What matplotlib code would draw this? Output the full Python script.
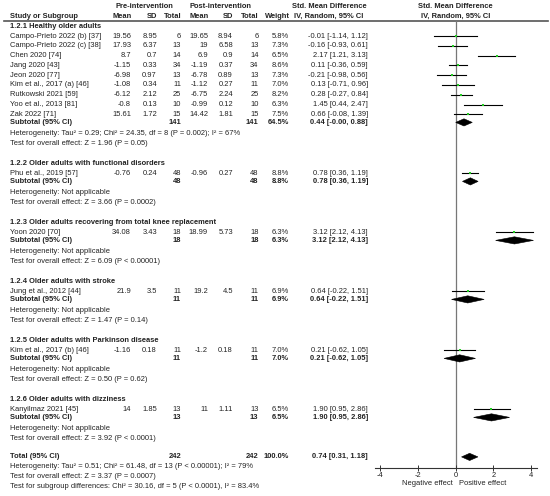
import matplotlib.pyplot as plt
from matplotlib.patches import Polygon

plt.rcParams['font.family'] = ['Liberation Sans', 'DejaVu Sans']

# ---- data ----
groups = [
    '1.2.1 Healthy older adults',
    '1.2.2 Older adults with functional disorders',
    '1.2.3 Older adults recovering from total knee replacement',
    '1.2.4 Older adults with stroke',
    '1.2.5 Older adults with Parkinson disease',
    '1.2.6 Older adults with dizziness',
]
studies = [
    ['Campo-Prieto 2022 (b) [37]', 'Campo-Prieto 2022 (c) [38]', 'Chen 2020 [74]',
     'Jang 2020 [43]', 'Jeon 2020 [77]', 'Kim et al., 2017 (a) [46]',
     'Rutkowski 2021 [59]', 'Yoo et al., 2013 [81]', 'Zak 2022 [71]'],
    ['Phu et al., 2019 [57]'],
    ['Yoon 2020 [70]'],
    ['Jung et al., 2012 [44]'],
    ['Kim et al., 2017 (b) [46]'],
    ['Kanyilmaz 2021 [45]'],
]
pre_mean = [['19.56', '17.93', '8.7', '-1.15', '-6.98', '-1.08', '-6.12', '-0.8', '15.61'],
            ['-0.76'], ['34.08'], ['21.9'], ['-1.16'], ['14']]
pre_sd = [['8.95', '6.37', '0.7', '0.33', '0.97', '0.34', '2.12', '0.13', '1.72'],
          ['0.24'], ['3.43'], ['3.5'], ['0.18'], ['1.85']]
pre_n = [[6, 13, 14, 34, 13, 11, 25, 10, 15], [48], [18], [11], [11], [13]]
post_mean = [['19.65', '19', '6.9', '-1.19', '-6.78', '-1.12', '-6.75', '-0.99', '14.42'],
             ['-0.96'], ['18.99'], ['19.2'], ['-1.2'], ['11']]
post_sd = [['8.94', '6.58', '0.9', '0.37', '0.89', '0.27', '2.24', '0.12', '1.81'],
           ['0.27'], ['5.73'], ['4.5'], ['0.18'], ['1.11']]
post_n = [[6, 13, 14, 34, 13, 11, 25, 10, 15], [48], [18], [11], [11], [13]]
weight = [[5.8, 7.3, 6.5, 8.6, 7.3, 7.0, 8.2, 6.3, 7.5], [8.8], [6.3], [6.9], [7.0], [6.5]]
smd = [[-0.01, -0.16, 2.17, 0.11, -0.21, 0.13, 0.28, 1.45, 0.66],
       [0.78], [3.12], [0.64], [0.21], [1.90]]
ci_lo = [[-1.14, -0.93, 1.21, -0.36, -0.98, -0.71, -0.27, 0.44, -0.08],
         [0.36], [2.12], [-0.22], [-0.62], [0.95]]
ci_hi = [[1.12, 0.61, 3.13, 0.59, 0.56, 0.96, 0.84, 2.47, 1.39],
         [1.19], [4.13], [1.51], [1.05], [2.86]]

sub_n = [141, 48, 18, 11, 11, 13]
sub_weight = [64.5, 8.8, 6.3, 6.9, 7.0, 6.5]
sub_smd = [0.44, 0.78, 3.12, 0.64, 0.21, 1.90]
sub_lo = [-0.00, 0.36, 2.12, -0.22, -0.62, 0.95]
sub_hi = [0.88, 1.19, 4.13, 1.51, 1.05, 2.86]
sub_het = ['Heterogeneity: Tau² = 0.29; Chi² = 24.35, df = 8 (P = 0.002); I² = 67%',
           'Heterogeneity: Not applicable', 'Heterogeneity: Not applicable',
           'Heterogeneity: Not applicable', 'Heterogeneity: Not applicable',
           'Heterogeneity: Not applicable']
sub_test = ['Test for overall effect: Z = 1.96 (P = 0.05)',
            'Test for overall effect: Z = 3.66 (P = 0.0002)',
            'Test for overall effect: Z = 6.09 (P < 0.00001)',
            'Test for overall effect: Z = 1.47 (P = 0.14)',
            'Test for overall effect: Z = 0.50 (P = 0.62)',
            'Test for overall effect: Z = 3.92 (P < 0.0001)']

total_n = 242
total_smd, total_lo, total_hi = 0.74, 0.31, 1.18
total_notes = ['Heterogeneity: Tau² = 0.51; Chi² = 61.48, df = 13 (P < 0.00001); I² = 79%',
               'Test for overall effect: Z = 3.37 (P = 0.0007)',
               'Test for subgroup differences: Chi² = 30.16, df = 5 (P < 0.0001), I² = 83.4%']

# ---- layout (pixels) ----
W, H = 550, 496
FS = 5.4
TC = '#222222'
col_x = {'name': 10, 'pm': 131, 'psd': 157, 'pn': 181, 'qm': 208, 'qsd': 233,
         'qn': 258.5, 'w': 289, 'ci': 368}
x0_px, unit_px = 455.7, 18.83
ax_left, ax_right = 375, 537
top_y, axis_y = 21, 467.7

fig = plt.figure(figsize=(W / 100, H / 100), dpi=100)
tx = fig.add_axes([0, 0, 1, 1])
tx.set_xlim(0, W)
tx.set_ylim(H, 0)
tx.axis('off')

fx = fig.add_axes([ax_left / W, (H - axis_y) / H, (ax_right - ax_left) / W, (axis_y - top_y) / H])
fx.set_xlim((ax_left - x0_px) / unit_px, (ax_right - x0_px) / unit_px)
fx.set_ylim(axis_y, top_y)
fx.patch.set_alpha(0)
for s in ['top', 'left', 'right']:
    fx.spines[s].set_visible(False)
fx.spines['bottom'].set_linewidth(0.8)
fx.spines['bottom'].set_color('#333333')
fx.set_yticks([])
fx.set_xticks([-4, -2, 0, 2, 4])
fx.set_xticklabels(['-4', '-2', '0', '2', '4'])
fx.tick_params(axis='x', direction='inout', length=4, width=0.7, labelsize=FS,
               labelcolor=TC, pad=1, color='#333333')
fx.axvline(0, color='#777777', lw=0.9, zorder=1)


def t(x, y, s, ha='left', bold=False):
    tx.text(x, y, s, ha=ha, va='center', fontsize=FS, color=TC,
            fontweight='bold' if bold else 'normal')


def diamond(y, est, lo, hi, h=3.6):
    fx.add_patch(Polygon([(lo, y), (est, y - h), (hi, y), (est, y + h)],
                         closed=True, fc='black', ec='black', lw=0.4, zorder=3))


# headers
t(144, 6, 'Pre-intervention', ha='center', bold=True)
t(220, 6, 'Post-intervention', ha='center', bold=True)
t(329, 6, 'Std. Mean Difference', ha='center', bold=True)
t(x0_px, 6, 'Std. Mean Difference', ha='center', bold=True)
t(col_x['name'], 16, 'Study or Subgroup', bold=True)
for key, lab in [('pm', 'Mean'), ('psd', 'SD'), ('pn', 'Total'),
                 ('qm', 'Mean'), ('qsd', 'SD'), ('qn', 'Total'), ('w', 'Weight')]:
    t(col_x[key] + 0.5, 16, lab, ha='right', bold=True)
t(329, 16, 'IV, Random, 95% CI', ha='center', bold=True)
t(x0_px, 16, 'IV, Random, 95% CI', ha='center', bold=True)
tx.plot([4, 548], [21, 21], color='#555555', lw=1.2)

# rows
y = 26
for g in range(len(groups)):
    t(col_x['name'], y, groups[g], bold=True)
    y += 10
    for i in range(len(studies[g])):
        t(col_x['name'], y, studies[g][i])
        t(col_x['pm'], y, pre_mean[g][i], ha='right')
        t(col_x['psd'], y, pre_sd[g][i], ha='right')
        t(col_x['pn'], y, str(pre_n[g][i]), ha='right')
        t(col_x['qm'], y, post_mean[g][i], ha='right')
        t(col_x['qsd'], y, post_sd[g][i], ha='right')
        t(col_x['qn'], y, str(post_n[g][i]), ha='right')
        t(col_x['w'], y, f'{weight[g][i]:.1f}%', ha='right')
        t(col_x['ci'], y, f'{smd[g][i]:.2f} [{ci_lo[g][i]:.2f}, {ci_hi[g][i]:.2f}]', ha='right')
        fx.plot([ci_lo[g][i], ci_hi[g][i]], [y, y], color='black', lw=0.8, zorder=2)
        fx.plot(smd[g][i], y, marker='s', color='#22cc22', ms=1.8, mew=0, zorder=3)
        y += 9.8
    y -= 1.8
    t(col_x['name'], y, 'Subtotal (95% CI)', bold=True)
    t(col_x['pn'], y, str(sub_n[g]), ha='right', bold=True)
    t(col_x['qn'], y, str(sub_n[g]), ha='right', bold=True)
    t(col_x['w'], y, f'{sub_weight[g]:.1f}%', ha='right', bold=True)
    t(col_x['ci'], y, f'{sub_smd[g]:.2f} [{sub_lo[g]:.2f}, {sub_hi[g]:.2f}]', ha='right', bold=True)
    diamond(y, sub_smd[g], sub_lo[g], sub_hi[g])
    y += 11.5
    t(col_x['name'], y, sub_het[g])
    y += 10
    t(col_x['name'], y, sub_test[g])
    y += 19.5

y -= 1.5
t(col_x['name'], y, 'Total (95% CI)', bold=True)
t(col_x['pn'], y, str(total_n), ha='right', bold=True)
t(col_x['qn'], y, str(total_n), ha='right', bold=True)
t(col_x['w'], y, '100.0%', ha='right', bold=True)
t(col_x['ci'], y, f'{total_smd:.2f} [{total_lo:.2f}, {total_hi:.2f}]', ha='right', bold=True)
diamond(y, total_smd, total_lo, total_hi)
for note in total_notes:
    y += 10
    t(col_x['name'], y, note)

t(x0_px - 3, 483.5, 'Negative effect', ha='right')
t(x0_px + 3, 483.5, 'Positive effect', ha='left')

fig.savefig('out.png', dpi=100)
